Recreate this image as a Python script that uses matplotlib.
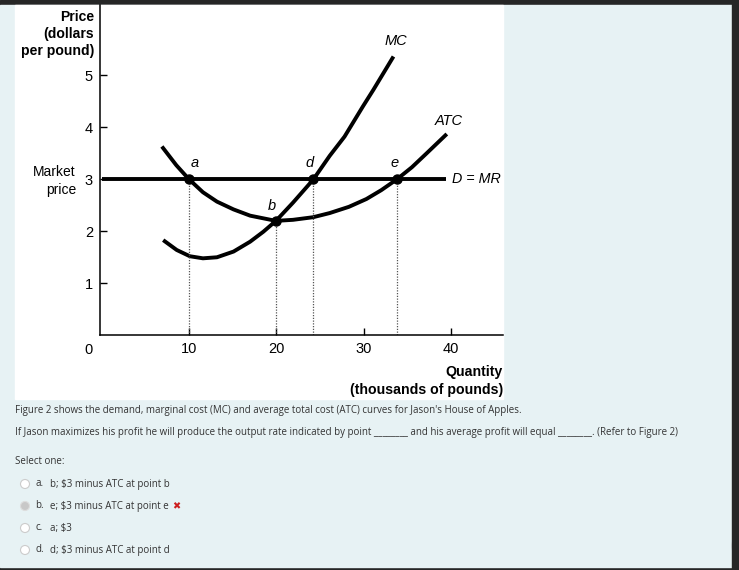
import matplotlib.pyplot as plt
from matplotlib.patches import Rectangle, Circle

# 曲线数据
mc_q = [7.05, 8.6, 10.1, 11.6, 13.2, 15.1, 17.0, 18.5, 19.95, 21.9, 24.2, 26.1, 27.8, 29.9, 31.1, 33.4]
mc_p = [1.83, 1.64, 1.52, 1.48, 1.50, 1.61, 1.80, 1.99, 2.20, 2.55, 2.99, 3.45, 3.82, 4.40, 4.72, 5.36]

atc_q = [6.9, 8.55, 10.0, 11.6, 13.2, 15.1, 17.0, 19.95, 21.9, 24.2, 26.1, 28.3, 30.3, 32.0, 33.8, 35.5, 37.2, 39.5]
atc_p = [3.63, 3.27, 3.0, 2.75, 2.57, 2.42, 2.30, 2.20, 2.22, 2.27, 2.35, 2.47, 2.62, 2.79, 3.0, 3.23, 3.5, 3.87]

market_price = 3
dmr_q = [0, 39.4]

pt_names = ['a', 'b', 'd', 'e']
pt_q = [10.0, 19.95, 24.2, 33.8]
pt_p = [3.0, 2.2, 3.0, 3.0]

x_ticks = [10, 20, 30, 40]
y_ticks = [1, 2, 3, 4, 5]

question1 = "Figure 2 shows the demand, marginal cost (MC) and average total cost (ATC) curves for Jason's House of Apples."
question2 = "If Jason maximizes his profit he will produce the output rate indicated by point ________ and his average profit will equal ________. (Refer to Figure 2)"
opt_letters = ['a.', 'b.', 'c.', 'd.']
opt_texts = ['b; $3 minus ATC at point b', 'e; $3 minus ATC at point e', 'a; $3', 'd; $3 minus ATC at point d']
selected = 1

W, H = 739, 570
fig = plt.figure(figsize=(W / 100, H / 100), dpi=100)

# 背景 (像素坐标)
bg = fig.add_axes([0, 0, 1, 1])
bg.set_xlim(0, W)
bg.set_ylim(H, 0)
bg.axis('off')
bg.add_patch(Rectangle((0, 0), W, H, color='#262626'))
bg.add_patch(Rectangle((0, 5), 732, 562, color='#e7f2f4'))
bg.add_patch(Rectangle((15.3, 5), 488, 393.5, color='white'))
bg.add_patch(Circle((747, 546), 15, color='#d2d6dc'))
bg.add_patch(Rectangle((732, 0), 7, H, color='#262626'))

chart_font = 'Liberation Sans'
bg.text(94, 34, 'Price\n(dollars\nper pound)', ha='right', va='center', multialignment='right',
        fontsize=10.1, fontweight='bold', family=chart_font, linespacing=1.3)
bg.text(76, 181, 'Market\nprice', ha='right', va='center', multialignment='right',
        fontsize=10, family=chart_font, linespacing=1.35)
bg.text(88.8, 349.5, '0', ha='center', va='center', fontsize=10.5, family=chart_font)
bg.text(503, 381, 'Quantity\n(thousands of pounds)', ha='right', va='center', multialignment='right',
        fontsize=10.2, fontweight='bold', family=chart_font, linespacing=1.3)

# 题目文字
q_font = ['Open Sans', 'DejaVu Sans']
q_color = '#333333'
q_size = 7.0
bg.text(15, 411, question1, ha='left', va='center', fontsize=q_size, family=q_font, color=q_color)
bg.text(15, 433, question2, ha='left', va='center', fontsize=q_size, family=q_font, color=q_color)
bg.text(15, 462, 'Select one:', ha='left', va='center', fontsize=q_size, family=q_font, color=q_color)
for i, (let, txt) in enumerate(zip(opt_letters, opt_texts)):
    y = 484 + i * 22
    if i == selected:
        bg.add_patch(Circle((25, y), 4.5, facecolor='#c8c8c8', edgecolor='#dddddd', lw=0.8))
    else:
        bg.add_patch(Circle((25, y), 4.5, facecolor='white', edgecolor='#cccccc', lw=0.8))
    bg.text(35, y, let, ha='left', va='center', fontsize=q_size, family=q_font, color=q_color)
    bg.text(50, y, txt, ha='left', va='center', fontsize=q_size, family=q_font, color=q_color)
    if i == selected:
        bg.text(176, y, '✖', ha='center', va='center', fontsize=7, color='#cc1f1f', family='DejaVu Sans')

# 图表
ax = fig.add_axes([100 / W, (H - 335.3) / H, 403 / W, 330.3 / H])
ax.set_facecolor('none')
ax.set_xlim(-0.18, 45.93)
ax.set_ylim(0, 6.35)
for s in ['top', 'right']:
    ax.spines[s].set_visible(False)
for s in ['left', 'bottom']:
    ax.spines[s].set_linewidth(1.1)
ax.set_xticks(x_ticks)
ax.set_yticks(y_ticks)
ax.tick_params(direction='in', length=5, width=1, pad=5, labelsize=10.5)
for lab in ax.get_xticklabels() + ax.get_yticklabels():
    lab.set_family(chart_font)

ax.plot(mc_q, mc_p, color='black', lw=2.8, solid_capstyle='butt', solid_joinstyle='round')
ax.plot(atc_q, atc_p, color='black', lw=2.8, solid_capstyle='butt', solid_joinstyle='round')
ax.plot(dmr_q, [market_price] * 2, color='black', lw=2.8, solid_capstyle='butt')

for q, p in zip(pt_q, pt_p):
    ax.plot([q, q], [0, p], color='#555555', lw=0.9, ls=(0, (1, 1.2)))
ax.plot(pt_q, pt_p, 'o', color='black', ms=6.5, zorder=5)

label_off = {'a': (4, 7), 'b': (-3, 6), 'd': (-2.5, 7), 'e': (-2, 6.5)}
for n, q, p in zip(pt_names, pt_q, pt_p):
    ax.annotate(n, (q, p), xytext=label_off[n], textcoords='offset points', ha='center', va='bottom',
                fontsize=10.5, fontstyle='italic', family=chart_font)

ax.annotate('MC', (mc_q[-1], mc_p[-1]), xytext=(1.5, 6), textcoords='offset points',
            ha='center', va='bottom', fontsize=10.5, fontstyle='italic', family=chart_font)
ax.annotate('ATC', (atc_q[-1], atc_p[-1]), xytext=(1.5, 4.5), textcoords='offset points',
            ha='center', va='bottom', fontsize=10.5, fontstyle='italic', family=chart_font)
ax.annotate('D = MR', (dmr_q[-1], market_price), xytext=(4.5, 0), textcoords='offset points',
            ha='left', va='center', fontsize=10.3, fontstyle='italic', family=chart_font)

fig.savefig('out.png', dpi=100)
